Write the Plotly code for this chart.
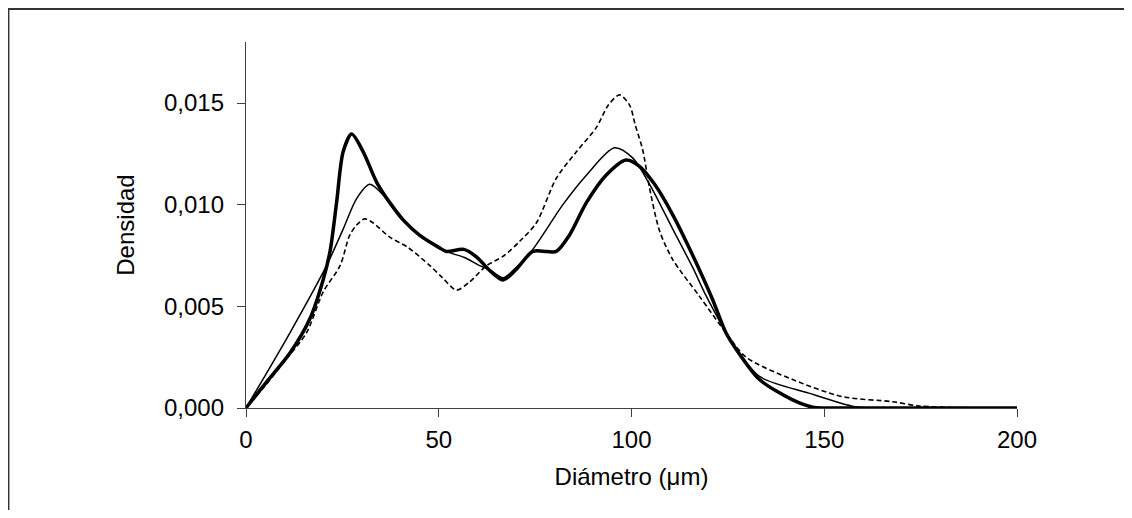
import plotly.graph_objects as go

# Series A (thick solid)
xa = [0, 5, 11.4, 16.6, 20, 21.8, 23.5, 25.2, 27.4, 30.4, 33.9, 37.3, 41, 45, 50, 52, 56.5, 60,
      63, 66.7, 70, 74.4, 78, 80.5, 83.9, 88.3, 93.4, 98.6, 102, 106, 110.7, 115.9, 121, 124.5, 127.1,
      133.2, 141.8, 147, 150, 160, 200]
ya = [0, 0.0012, 0.0027, 0.0044, 0.0063, 0.0077, 0.0101, 0.0126, 0.01347, 0.0126, 0.0111, 0.0101,
      0.0092, 0.0085, 0.0079, 0.0077, 0.0078, 0.0074, 0.0068, 0.0063, 0.0068, 0.0077, 0.0077, 0.0077,
      0.0085, 0.0101, 0.01145, 0.0122, 0.0119, 0.0110, 0.0095, 0.0075, 0.00535, 0.0037, 0.0029,
      0.0014, 0.0004, 0.00004, 0, 0, 0]

# Series B (thin solid)
xb = [0, 11.4, 20.9, 25.2, 28.7, 32.1, 36.4, 40, 45, 52, 56.7, 60.6, 63.2, 66.7, 70, 74.4, 82.2,
      88.3, 95.6, 100.3, 104.7, 110.7, 115.9, 119.4, 126.2, 133.2, 146, 157, 162, 200]
yb = [0, 0.0037, 0.0070, 0.0088, 0.0103, 0.0110, 0.0103, 0.0094, 0.0085, 0.0077, 0.0074, 0.0070,
      0.0068, 0.0064, 0.0069, 0.0078, 0.0100, 0.01145, 0.0128, 0.0123, 0.0110, 0.0088, 0.0069,
      0.0055, 0.0032, 0.00155, 0.00073, 0.0001, 0, 0]

# Series C (dashed)
xc = [0, 5, 10, 15.7, 20, 24.4, 26.9, 28.7, 30.8, 33, 37.3, 42, 47.7, 51, 54.6, 58, 62.4, 67, 71,
      75.3, 80.5, 85.7, 90.9, 94, 96.9, 99.5, 101, 102.9, 104.7, 107.3, 110.7, 117.6, 124.5, 129.7,
      141.8, 154.7, 167.7, 174.6, 185, 200]
yc = [0, 0.0011, 0.0023, 0.0037, 0.0057, 0.0070, 0.0085, 0.0090, 0.0093, 0.0091, 0.0084, 0.0079,
      0.0070, 0.0064, 0.0058, 0.0062, 0.0070, 0.0075, 0.0082, 0.0091, 0.0113, 0.0126, 0.0138,
      0.0149, 0.0154, 0.0149, 0.0139, 0.0127, 0.0108, 0.0087, 0.0073, 0.0055, 0.0037, 0.0025,
      0.0014, 0.00056, 0.00031, 0.0001, 0.00002, 0]

x_ticks = [0, 50, 100, 150, 200]
y_ticks = [0, 0.005, 0.010, 0.015]

fig = go.Figure()
fig.add_trace(go.Scatter(x=xc, y=yc, mode="lines", line=dict(color="black", width=1.6, dash="5px,3px", shape="spline", smoothing=0.8)))
fig.add_trace(go.Scatter(x=xb, y=yb, mode="lines", line=dict(color="black", width=1.5, shape="spline", smoothing=0.8)))
fig.add_trace(go.Scatter(x=xa, y=ya, mode="lines", line=dict(color="black", width=3.5, shape="spline", smoothing=0.8)))

font = dict(family="Liberation Sans, Arial, sans-serif", size=24, color="black")
axcol = "#404040"
fig.update_layout(
    width=1116, height=502,
    margin=dict(l=238, r=107, t=34, b=102),
    paper_bgcolor="white", plot_bgcolor="white",
    showlegend=False,
    separators=",.",
    font=font,
    xaxis=dict(range=[0, 200], tickvals=x_ticks, showline=True, linecolor=axcol, linewidth=1.3,
               ticks="outside", ticklen=8, tickcolor=axcol, tickwidth=1.3, showgrid=False, zeroline=False,
               ticklabelstandoff=2,
               title=dict(text="Diámetro (μm)", font=font, standoff=16), tickfont=font),
    yaxis=dict(range=[0, 0.018], tickvals=y_ticks, tickformat=".3f", showline=True, linecolor=axcol,
               linewidth=1.3, ticks="outside", ticklen=8, tickcolor=axcol, tickwidth=1.3, showgrid=False,
               zeroline=False, ticklabelstandoff=8,
               title=dict(text="Densidad", font=font, standoff=22), tickfont=font),
    shapes=[
        dict(type="line", xref="paper", yref="paper", x0=-0.31, x1=1.2, y0=1.0905, y1=1.0905,
             line=dict(color="#333333", width=2)),
        dict(type="line", xref="paper", yref="paper", x0=-0.3078, x1=-0.3078, y0=1.0905, y1=-0.35,
             line=dict(color="#333333", width=1.5)),
    ],
)
fig.write_html("out.html")
